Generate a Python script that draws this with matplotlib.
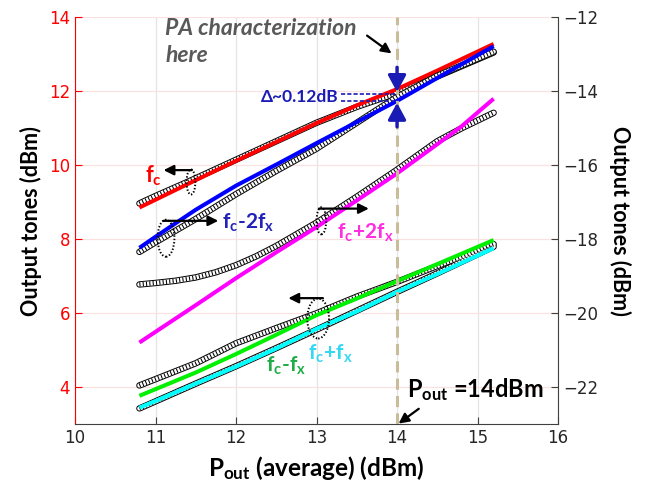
import matplotlib
matplotlib.use('Agg')
import matplotlib.pyplot as plt
from matplotlib.patches import Ellipse

plt.rcParams['font.family'] = ['Lato', 'DejaVu Sans']
plt.rcParams['mathtext.fontset'] = 'custom'
plt.rcParams['mathtext.rm'] = 'Lato'
plt.rcParams['mathtext.bf'] = 'Lato:bold'
plt.rcParams['mathtext.it'] = 'Lato:italic'
plt.rcParams['lines.scale_dashes'] = False

# --- data ---
pout = [10.8, 11.0, 11.5, 12.0, 12.5, 13.0, 13.5, 14.0, 14.5, 15.2]

# left axis (dBm)
fc_sim = [8.86, 9.07, 9.60, 10.12, 10.63, 11.14, 11.62, 12.06, 12.56, 13.28]
fc_meas = [8.97, 9.17, 9.65, 10.15, 10.65, 11.15, 11.58, 11.95, 12.40, 13.05]
fc_m_fx_sim = [3.77, 3.95, 4.40, 4.90, 5.42, 5.95, 6.40, 6.87, 7.33, 7.98]
fc_m_fx_meas = [4.05, 4.22, 4.65, 5.19, 5.60, 6.00, 6.45, 6.85, 7.28, 7.87]
fc_p_fx_sim = [3.45, 3.63, 4.10, 4.56, 5.05, 5.58, 6.05, 6.58, 7.06, 7.76]
fc_p_fx_meas = [3.43, 3.62, 4.10, 4.57, 5.06, 5.56, 6.07, 6.58, 7.08, 7.80]

# right axis (dBm)
fc_m_2fx_sim = [-18.23, -17.93, -17.20, -16.55, -15.98, -15.40, -14.83, -14.26, -13.64, -12.78]
fc_m_2fx_meas = [-18.34, -18.08, -17.45, -16.78, -16.15, -15.55, -14.85, -14.15, -13.58, -12.93]
pout_p2fx_sim = [10.8, 11.0, 11.5, 12.0, 12.5, 13.0, 13.5, 14.0, 14.5, 14.8, 15.2]
fc_p_2fx_sim = [-20.79, -20.50, -19.78, -19.05, -18.35, -17.67, -16.95, -16.22, -15.43, -14.95, -14.20]
pout_p2fx_meas = [10.8, 11.0, 11.25, 11.5, 11.75, 12.0, 12.25, 12.5, 13.0, 13.5, 14.0, 14.5, 14.8, 15.2]
fc_p_2fx_meas = [-19.22, -19.18, -19.12, -19.03, -18.89, -18.70, -18.46, -18.18, -17.55, -16.85,
                 -16.12, -15.35, -15.00, -14.58]

xticks = [10, 11, 12, 13, 14, 15, 16]
yticks_left = [4, 6, 8, 10, 12, 14]
yticks_right = [-22, -20, -18, -16, -14, -12]


def meas(axis, x, y):
    # dense open-circle look of the measured points
    axis.plot(x, y, color='black', lw=4.6, solid_capstyle='round', solid_joinstyle='round', zorder=3)
    axis.plot(x, y, color='white', lw=3.2, solid_capstyle='round', solid_joinstyle='round', zorder=3.1)
    axis.plot(x, y, color='black', lw=3.2, ls=(0, (0.75, 1.65)), dash_capstyle='butt', zorder=3.2)


def model(axis, x, y, c):
    axis.plot(x, y, color=c, lw=2.9, solid_capstyle='butt', solid_joinstyle='round', zorder=4)


fig = plt.figure(figsize=(6.5, 4.88), dpi=100)
ax = fig.add_axes([0.1154, 0.1305, 0.7431, 0.834])
ax2 = ax.twinx()

ax.set_xlim(10, 16)
ax.set_ylim(3, 14)
ax2.set_ylim(-23, -12)

# left axis tones
meas(ax, pout, fc_meas)
model(ax, pout, fc_sim, '#ff0000')
meas(ax, pout, fc_m_fx_meas)
model(ax, pout, fc_m_fx_sim, '#00f000')
meas(ax, pout, fc_p_fx_meas)
model(ax, pout, fc_p_fx_sim, '#00ffff')

# right axis tones
meas(ax2, pout, fc_m_2fx_meas)
model(ax2, pout, fc_m_2fx_sim, '#0000ff')
meas(ax2, pout_p2fx_meas, fc_p_2fx_meas)
model(ax2, pout_p2fx_sim, fc_p_2fx_sim, '#ff00ff')

# grid / axes styling
ax.xaxis.grid(True, color='#e4e4e4', lw=0.9)
ax.yaxis.grid(True, color='#fbe1e1', lw=0.9)
ax.set_axisbelow(True)

ax.set_xticks(xticks, labels=[str(v) for v in xticks], fontfamily='DejaVu Sans', fontsize=12)
ax.set_yticks(yticks_left, labels=[str(v) for v in yticks_left], fontfamily='DejaVu Sans', fontsize=12)
ax2.set_yticks(yticks_right, labels=[str(v).replace('-', '\u2212') for v in yticks_right],
               fontfamily='DejaVu Sans', fontsize=12)

ax.tick_params(axis='x', direction='in', colors='#404040', labelcolor='#262626', length=5)
ax.tick_params(axis='y', direction='in', colors='#ff0000', length=5)
ax2.tick_params(axis='y', direction='in', colors='#404040', labelcolor='#262626', length=5)

ax.spines['top'].set_visible(False)
ax.spines['right'].set_visible(False)
ax.spines['left'].set_color('#ff0000')
ax.spines['bottom'].set_color('#404040')
for s in ['top', 'left', 'bottom']:
    ax2.spines[s].set_visible(False)
ax2.spines['right'].set_color('#404040')

ax.set_xlabel(r'$\mathbf{P_{out}}$ (average) (dBm)', fontsize=17.5, fontweight='bold', labelpad=5)
ax.set_ylabel('Output tones (dBm)', fontsize=15.5, fontweight='bold', labelpad=5)
ax2.set_ylabel('Output tones (dBm)', fontsize=15.5, fontweight='bold', rotation=270, labelpad=24)

T = ax.transData

# P_out = 14 dBm marker
ax2.axvline(14, color='#c8bd98', lw=2.2, ls=(0, (8, 4.5)), zorder=5)

# PA characterization note
ax2.text(11.12, 13.97, 'PA characterization\nhere', transform=T, fontsize=16.5, fontweight='bold',
         fontstyle='italic', color='#595959', ha='left', va='top', linespacing=1.35)
ax2.annotate('', xy=(13.96, 12.98), xytext=(13.6, 13.55), xycoords=T, textcoords=T,
             arrowprops=dict(arrowstyle='-|>,head_length=0.6,head_width=0.3', mutation_scale=10,
                             lw=1.6, color='black'), zorder=6)

# delta annotation
blue = '#1a1ab4'
ax2.annotate('', xy=(14, 11.98), xytext=(14, 12.65), xycoords=T, textcoords=T,
             arrowprops=dict(arrowstyle='-|>,head_length=0.5,head_width=0.27', mutation_scale=20,
                             lw=2.4, color=blue, shrinkA=0, shrinkB=0), zorder=7)
ax2.annotate('', xy=(14, 11.69), xytext=(14, 11.04), xycoords=T, textcoords=T,
             arrowprops=dict(arrowstyle='-|>,head_length=0.5,head_width=0.27', mutation_scale=20,
                             lw=2.4, color=blue, shrinkA=0, shrinkB=0), zorder=7)
ax2.plot([13.3, 14.0], [11.94 - 26, 11.94 - 26], color=blue, lw=1.2, ls=(0, (3, 1.5)), zorder=7)
ax2.plot([13.3, 14.0], [11.74 - 26, 11.74 - 26], color=blue, lw=1.2, ls=(0, (3, 1.5)), zorder=7)
ax2.text(13.27, 11.84, '\u0394~0.12dB', transform=T, fontsize=12.5, fontweight='bold', color=blue,
         ha='right', va='center')

# tone labels, arrows and dotted ellipses
arrow_kw = dict(arrowstyle='-|>,head_length=0.6,head_width=0.3', mutation_scale=10, lw=1.6,
                color='black', shrinkA=0, shrinkB=0)


def tag(x0, x1, y):
    ax2.annotate('', xy=(x1, y), xytext=(x0, y), xycoords=T, textcoords=T, arrowprops=arrow_kw, zorder=6)


def ring(x, y, w, h):
    ax2.add_patch(Ellipse((x, y), w, h, transform=T, fill=False, ec='black', lw=1.4,
                          ls=(0, (1, 1.4)), zorder=6))


ax2.text(10.97, 9.72, r'$\mathbf{f_c}$', transform=T, fontsize=15.5, color='#ff0000', ha='center', va='center')
tag(11.45, 11.10, 9.87)
ring(11.44, 9.55, 0.11, 0.68)

ax2.text(11.82, 8.45, r'$\mathbf{f_c}$-2$\mathbf{f_x}$', transform=T, fontsize=15, fontweight='bold',
         color='#2323b8', ha='left', va='center')
tag(11.10, 11.78, 8.50)
ring(11.13, 8.03, 0.21, 1.0)

ax2.text(13.25, 8.17, r'$\mathbf{f_c}$+2$\mathbf{f_x}$', transform=T, fontsize=15, fontweight='bold',
         color='#ff2ee0', ha='left', va='center')
tag(13.03, 13.65, 8.83)
ring(13.06, 8.5, 0.12, 0.73)

tag(13.08, 12.65, 6.41)
ring(13.02, 5.86, 0.27, 1.08)
ax2.text(12.62, 4.58, r'$\mathbf{f_c}$-$\mathbf{f_x}$', transform=T, fontsize=15, fontweight='bold',
         color='#1fae45', ha='center', va='center')
ax2.text(13.17, 4.9, r'$\mathbf{f_c}$+$\mathbf{f_x}$', transform=T, fontsize=15, fontweight='bold',
         color='#35d8f2', ha='center', va='center')

ax2.text(14.12, 3.93, r'$\mathbf{P_{out}}$ =14dBm', transform=T, fontsize=17, fontweight='bold',
         color='black', ha='left', va='center')
ax2.annotate('', xy=(14.02, 3.02), xytext=(14.27, 3.42), xycoords=T, textcoords=T,
             arrowprops=arrow_kw, zorder=6, annotation_clip=False)

fig.savefig('out.png', dpi=100)
